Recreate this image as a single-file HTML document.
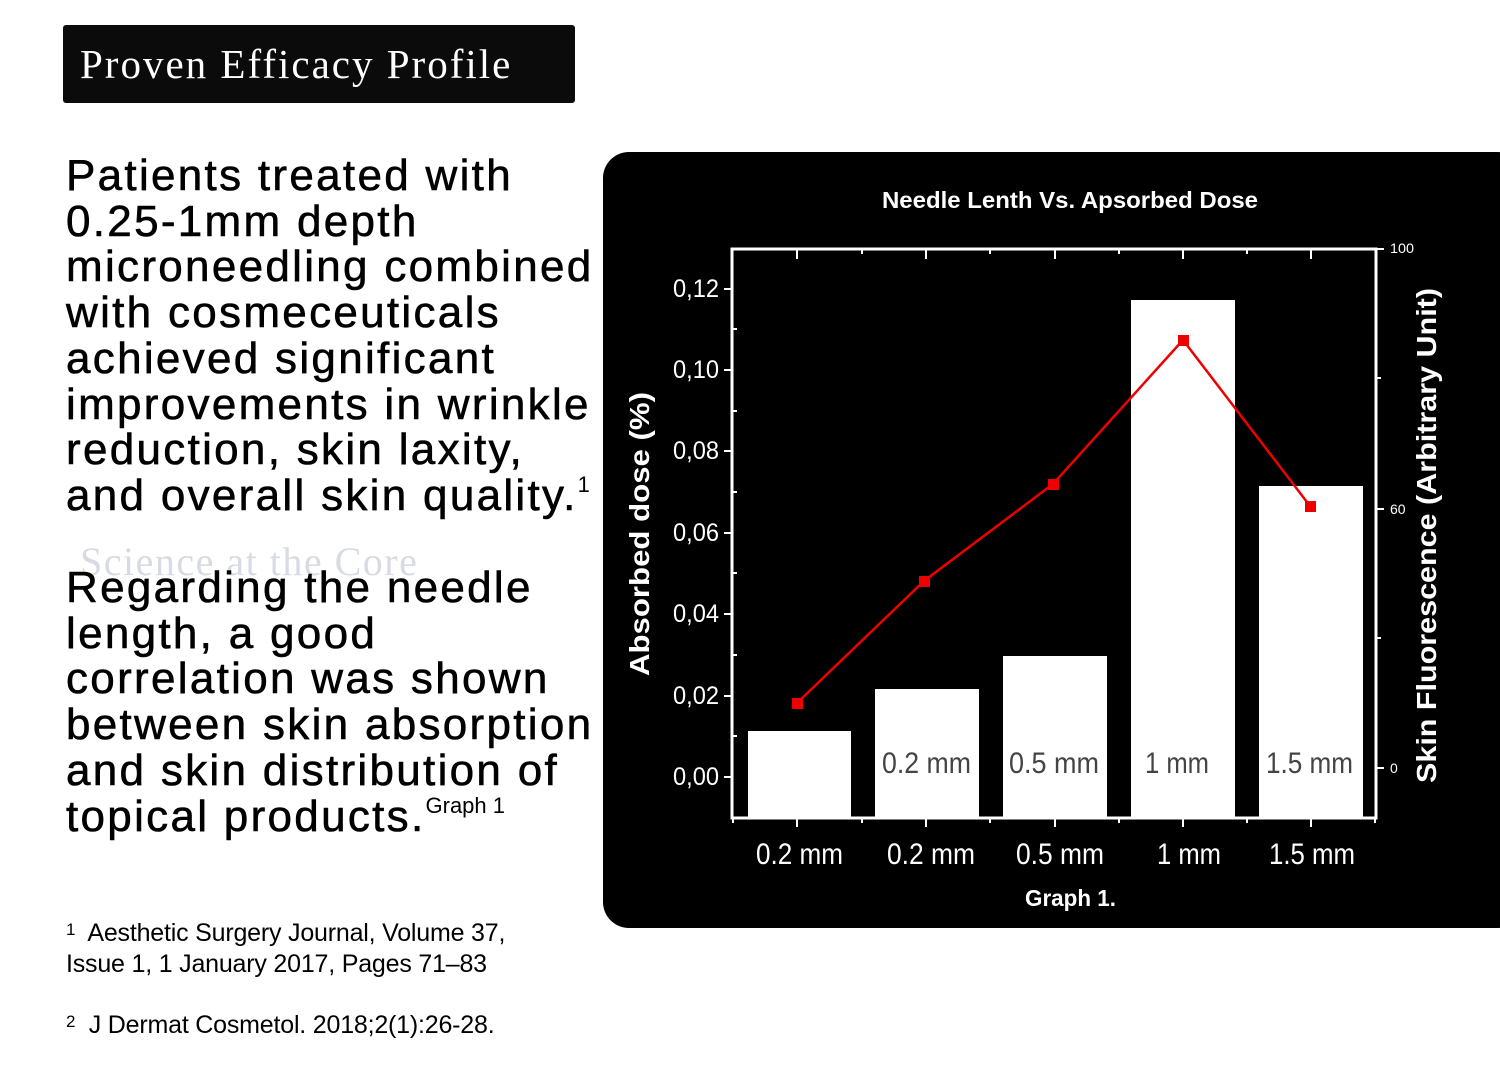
<!DOCTYPE html>
<html><head><meta charset="utf-8"><style>
body{margin:0;width:1500px;height:1080px;background:#fff;position:relative;overflow:hidden;font-family:"Liberation Sans",sans-serif}
.hd{position:absolute;left:63px;top:25px;width:512px;height:78px;background:#0b0b0b;border-radius:3px;color:#fff;font-family:"Liberation Serif",serif;font-size:41px;letter-spacing:2.0px;line-height:78px;padding-left:17px;box-sizing:border-box}
.p{position:absolute;left:66px;font-size:44px;line-height:45.7px;color:#000;white-space:nowrap;letter-spacing:2.3px;-webkit-text-stroke:0.6px #000}
.p div{white-space:nowrap}
.ghost{position:absolute;left:80px;top:538px;font-family:"Liberation Serif",serif;font-size:40px;color:#d8dbe3;letter-spacing:1.5px}
.fn{position:absolute;left:66px;font-size:25px;line-height:31px;color:#000;letter-spacing:-0.2px}
sup{font-size:22px;vertical-align:18px;line-height:0;letter-spacing:0;-webkit-text-stroke:0}
</style></head><body>
<div class="hd">Proven Efficacy Profile</div>
<div class="p" style="top:153px">
<div>Patients treated with</div><div>0.25-1mm depth</div><div>microneedling combined</div><div>with cosmeceuticals</div><div>achieved significant</div><div>improvements in wrinkle</div><div>reduction, skin laxity,</div><div>and overall skin quality.<sup>1</sup></div>
</div>
<div class="ghost">Science at the Core</div>
<div class="p" style="top:565px">
<div>Regarding the needle</div><div>length, a good</div><div>correlation was shown</div><div>between skin absorption</div><div>and skin distribution of</div><div>topical products.<sup>Graph 1</sup></div>
</div>
<div class="fn" style="top:914px"><span style="font-size:17px;vertical-align:6px">1</span>&nbsp; Aesthetic Surgery Journal, Volume 37,<br>Issue 1, 1 January 2017, Pages 71–83</div>
<div class="fn" style="top:1006px"><span style="font-size:17px;vertical-align:6px">2</span>&nbsp; J Dermat Cosmetol. 2018;2(1):26-28.</div>

<svg style="position:absolute;left:0;top:0" width="1500" height="1080">
<rect x="603" y="152" width="920" height="776" rx="26" fill="#000"/>
<text x="882" y="208" fill="#fff" font-size="23" font-weight="bold" textLength="376" lengthAdjust="spacingAndGlyphs">Needle Lenth Vs. Apsorbed Dose</text>
<g fill="#fff">
<rect x="748" y="731" width="103" height="87"/>
<rect x="875" y="689" width="104" height="129"/>
<rect x="1003" y="656" width="104" height="162"/>
<rect x="1131" y="300" width="104" height="518"/>
<rect x="1259" y="486" width="104" height="332"/>
</g>
<g stroke="#fff" stroke-width="3" fill="none">
<rect x="732" y="249" width="644" height="569"/>
</g>
<g stroke="#fff" stroke-width="2">
<path d="M732 289h-8M732 370h-8M732 451h-8M732 533h-8M732 614h-8M732 696h-8M732 777h-8"/>
<path d="M732 329h5M732 411h5M732 492h5M732 573h5M732 655h5M732 736h5"/>
<path d="M797 818v9M926 818v9M1055 818v9M1183 818v9M1311 818v9M733 818v5M862 818v5M990 818v5M1119 818v5M1247 818v5M1375 818v5"/>
<path d="M797 249v10M926 249v10M1055 249v10M1183 249v10M1311 249v10M862 249v5M990 249v5M1119 249v5M1247 249v5"/>
<path d="M1376 249h8M1376 509h8M1376 768h8M1376 378h5M1376 638h5"/>
</g>
<g fill="#fff" font-size="25">
<text x="673" y="297" textLength="46" lengthAdjust="spacingAndGlyphs">0,12</text><text x="673" y="378" textLength="46" lengthAdjust="spacingAndGlyphs">0,10</text><text x="673" y="459" textLength="46" lengthAdjust="spacingAndGlyphs">0,08</text><text x="673" y="541" textLength="46" lengthAdjust="spacingAndGlyphs">0,06</text><text x="673" y="622" textLength="46" lengthAdjust="spacingAndGlyphs">0,04</text><text x="673" y="704" textLength="46" lengthAdjust="spacingAndGlyphs">0,02</text><text x="673" y="785" textLength="46" lengthAdjust="spacingAndGlyphs">0,00</text>
</g>
<g fill="#fff" font-size="14">
<text x="1390" y="253" textLength="24" lengthAdjust="spacingAndGlyphs">100</text><text x="1390" y="514">60</text><text x="1390" y="773">0</text>
</g>
<g fill="#fff" font-size="30">
<text x="756" y="864" textLength="87" lengthAdjust="spacingAndGlyphs">0.2 mm</text><text x="887" y="864" textLength="88" lengthAdjust="spacingAndGlyphs">0.2 mm</text><text x="1016" y="864" textLength="88" lengthAdjust="spacingAndGlyphs">0.5 mm</text><text x="1157" y="864" textLength="64" lengthAdjust="spacingAndGlyphs">1 mm</text><text x="1269" y="864" textLength="86" lengthAdjust="spacingAndGlyphs">1.5 mm</text>
</g>
<g fill="#444" font-size="30">
<text x="882" y="773" textLength="89" lengthAdjust="spacingAndGlyphs">0.2 mm</text><text x="1009" y="773" textLength="90" lengthAdjust="spacingAndGlyphs">0.5 mm</text><text x="1145" y="773" textLength="64" lengthAdjust="spacingAndGlyphs">1 mm</text><text x="1266" y="773" textLength="87" lengthAdjust="spacingAndGlyphs">1.5 mm</text>
</g>
<text x="1025" y="906" fill="#fff" font-size="23" font-weight="bold" textLength="91" lengthAdjust="spacingAndGlyphs">Graph 1.</text>
<text transform="translate(649,676) rotate(-90)" fill="#fff" font-size="28" font-weight="bold" textLength="284" lengthAdjust="spacingAndGlyphs">Absorbed dose (%)</text>
<text transform="translate(1436,783) rotate(-90)" fill="#fff" font-size="28" font-weight="bold" textLength="495" lengthAdjust="spacingAndGlyphs">Skin Fluorescence (Arbitrary Unit)</text>
<polyline points="797,703 924,581 1053,484 1183,340 1310,506" fill="none" stroke="#e00" stroke-width="2.5"/>
<g fill="#e00">
<rect x="792" y="698" width="11" height="11"/><rect x="919" y="576" width="11" height="11"/><rect x="1048" y="479" width="11" height="11"/><rect x="1178" y="335" width="11" height="11"/><rect x="1305" y="501" width="11" height="11"/>
</g>
</svg>
</body></html>
